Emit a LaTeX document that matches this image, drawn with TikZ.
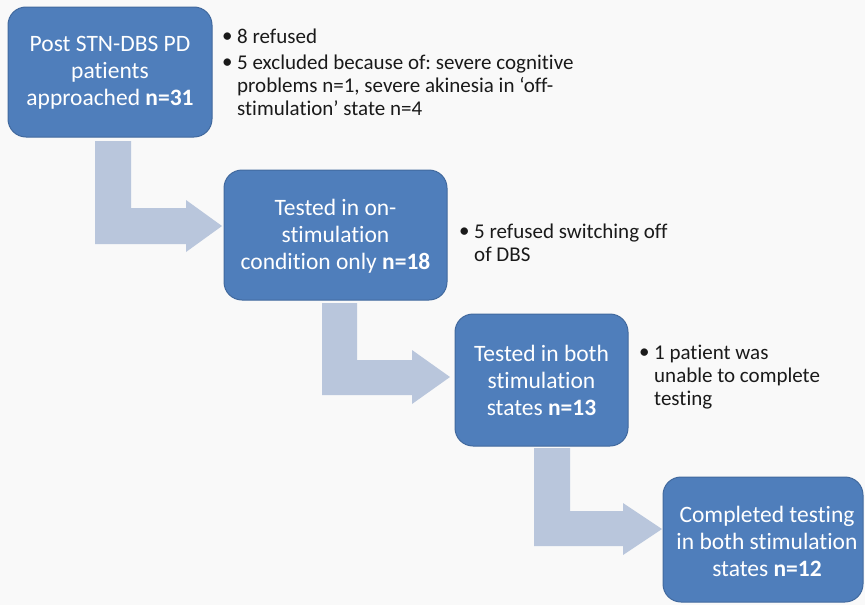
\documentclass[tikz,border=0pt]{standalone}
\usepackage{fontspec}
\setmainfont{Carlito}[Ligatures=NoCommon]
\frenchspacing
\definecolor{boxblue}{HTML}{4F7EBB}
\definecolor{boxedge}{HTML}{41699E}
\definecolor{arrowgray}{HTML}{B9C6DC}
\definecolor{bg}{HTML}{F9F9F9}
\definecolor{bullettext}{HTML}{1A1A1A}
\tikzset{
  stagebox/.style={draw=boxedge, line width=1pt, fill=boxblue, rounded corners=18pt},
  stagetext/.style={text=white, align=center, inner sep=0pt, font=\fontsize{23.5}{27}\selectfont},
  notetext/.style={text=bullettext, inner sep=0pt, anchor=base west, font=\fontsize{21}{23}\selectfont},
  flowarrow/.style={fill=arrowgray, draw=none}
}
\newcommand{\bul}{\makebox[15pt][l]{\raisebox{0.5pt}{\textbullet}}}
\begin{document}
\begin{tikzpicture}[x=1pt,y=-1pt]
\useasboundingbox (0,0) rectangle (865,605);
\fill[bg] (0,0) rectangle (865,605);

% boxes
\draw[stagebox] (8,7) rectangle (212,137);
\node[stagetext] (b1) at (110,73) {Post STN-DBS PD\\patients\\approached \textbf{n=31}};
\draw[stagebox] (224,170) rectangle (447,300);
\node[stagetext] (b2) at (335.5,236) {Tested in on-\\stimulation\\condition only \textbf{n=18}};
\draw[stagebox] (455,314) rectangle (628,446);
\node[stagetext] (b3) at (541.5,380) {Tested in both\\stimulation\\states \textbf{n=13}};
\draw[stagebox] (663,477) rectangle (863,602);
\node[stagetext] (b4) at (767,541) {Completed testing\\in both stimulation\\states \textbf{n=12}};

% bent arrows
\fill[flowarrow] (95,141) -- (131,141) -- (131,208) -- (186,208) -- (186,200)
  -- (222,226) -- (186,252) -- (186,244) -- (95,244) -- cycle;
\fill[flowarrow] (322,303) -- (357,303) -- (357,360) -- (412,360) -- (412,350)
  -- (450,377) -- (412,404) -- (412,395) -- (322,395) -- cycle;
\fill[flowarrow] (534,448) -- (570,448) -- (570,511) -- (623,511) -- (623,503)
  -- (662,529) -- (623,555) -- (623,546) -- (534,546) -- cycle;

% notes
\node[notetext] (n1) at (222,43) {\begin{tabular}[t]{@{}l@{}l@{}}
\bul & 8 refused\\[3pt]
\bul & 5 excluded because of: severe cognitive\\
 & problems n=1, severe akinesia in ‘off-\\
 & stimulation’ state n=4
\end{tabular}};
\node[notetext] (n2) at (459,238) {\begin{tabular}[t]{@{}l@{}l@{}}
\bul & 5 refused switching off\\
 & of DBS
\end{tabular}};
\node[notetext] (n3) at (639,359) {\begin{tabular}[t]{@{}l@{}l@{}}
\bul & 1 patient was\\
 & unable to complete\\
 & testing
\end{tabular}};
\end{tikzpicture}
\end{document}
